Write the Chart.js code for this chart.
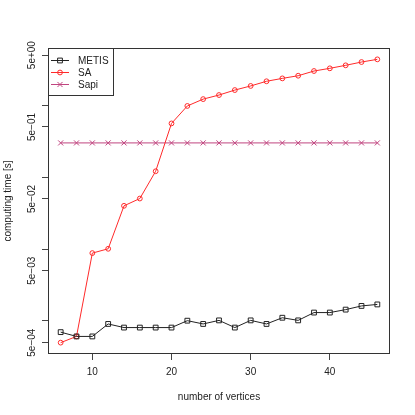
<!DOCTYPE html>
<html>
<head>
<meta charset="utf-8">
<script src="https://cdn.jsdelivr.net/npm/chart.js@4/dist/chart.umd.min.js"></script>
<style>
  html, body { margin: 0; padding: 0; background: #fff; }
  #wrap { width: 415px; height: 415px; }
</style>
</head>
<body>
<div id="wrap"><canvas id="chart"></canvas></div>
<script>
'use strict';

// number of vertices
var vertices = [6, 8, 10, 12, 14, 16, 18, 20, 22, 24, 26, 28, 30, 32, 34, 36, 38, 40, 42, 44, 46];

// computing time [s] per method
var metis = [7.0e-4, 6.1e-4, 6.1e-4, 9.1e-4, 8.1e-4, 8.1e-4, 8.1e-4, 8.1e-4, 1.01e-3, 9.1e-4, 1.02e-3,
             8.1e-4, 1.02e-3, 9.1e-4, 1.11e-3, 1.02e-3, 1.31e-3, 1.31e-3, 1.44e-3, 1.62e-3, 1.70e-3];
var sa = [5.0e-4, 6.1e-4, 8.8e-3, 1.01e-2, 4.0e-2, 5.05e-2, 0.121, 0.56, 0.98, 1.22, 1.39,
          1.63, 1.86, 2.16, 2.37, 2.58, 3.0, 3.27, 3.6, 4.0, 4.36];
var sapi = [0.30, 0.30, 0.30, 0.30, 0.30, 0.30, 0.30, 0.30, 0.30, 0.30, 0.30,
            0.30, 0.30, 0.30, 0.30, 0.30, 0.30, 0.30, 0.30, 0.30, 0.30];

// axis ticks
var xTicks = [10, 20, 30, 40];
var yTicks = [5e-4, 1e-3, 5e-3, 1e-2, 5e-2, 1e-1, 5e-1, 1, 5];
var yLabels = ['5e\u221204', '', '5e\u221203', '', '5e\u221202', '', '5e\u221201', '', '5e+00'];

var FONT = { family: "'Liberation Sans', Arial, Helvetica, sans-serif", size: 10 };
var INK = '#222';
var SAPI_COL = '#c0457f';

var toPoints = function(ys){
	return ys.map(function(y, i){ return { x: vertices[i], y: y }; });
};

// box round the plot region, like R's bty="o"
var boxPlugin = {
	id: 'box',
	afterDraw: function(chart){
		var a = chart.chartArea, ctx = chart.ctx;
		ctx.save();
		ctx.strokeStyle = '#333';
		ctx.lineWidth = 1;
		ctx.strokeRect(Math.round(a.left) + 0.5, Math.round(a.top) + 0.5,
			Math.round(a.right - a.left) - 1, Math.round(a.bottom - a.top) - 1);
		ctx.restore();
	}
};

// legend in the top left corner: line + marker + label, with a frame
var legendPlugin = {
	id: 'rlegend',
	afterDraw: function(chart){
		var a = chart.chartArea, ctx = chart.ctx;
		var x0 = a.left, y0 = a.top, w = 65, h = 47;
		ctx.save();
		ctx.fillStyle = '#fff';
		ctx.fillRect(x0 + 0.5, y0 + 0.5, w, h);
		ctx.strokeStyle = '#333';
		ctx.lineWidth = 1;
		ctx.strokeRect(x0 + 0.5, y0 + 0.5, w, h);
		ctx.font = FONT.size + 'px ' + FONT.family;
		ctx.textBaseline = 'middle';
		chart.data.datasets.forEach(function(ds, i){
			var y = y0 + 12 + i * 12;
			ctx.strokeStyle = ds.borderColor;
			ctx.lineWidth = 1;
			ctx.beginPath();
			ctx.moveTo(x0 + 3, y + 0.5);
			ctx.lineTo(x0 + 21, y + 0.5);
			ctx.stroke();
			ctx.fillStyle = 'rgba(0,0,0,0)';
			Chart.helpers.drawPoint(ctx, {
				pointStyle: ds.pointStyle, radius: ds.pointRadius,
				borderWidth: 1, rotation: 0
			}, x0 + 12, y + 0.5);
			ctx.fillStyle = INK;
			ctx.fillText(ds.label, x0 + 30, y + 1);
		});
		ctx.restore();
	}
};

var data = {
	datasets: [
		{
			label: 'METIS',
			data: toPoints(metis),
			borderColor: '#222',
			backgroundColor: 'rgba(0,0,0,0)',
			pointStyle: 'rect',
			pointRadius: 3.4
		},
		{
			label: 'SA',
			data: toPoints(sa),
			borderColor: '#ff2a2a',
			backgroundColor: 'rgba(0,0,0,0)',
			pointStyle: 'circle',
			pointRadius: 2.4
		},
		{
			label: 'Sapi',
			data: toPoints(sapi),
			borderColor: SAPI_COL,
			backgroundColor: 'rgba(0,0,0,0)',
			pointStyle: 'crossRot',
			pointRadius: 3.6
		}
	]
};

var options = {
	responsive: false,
	animation: false,
	layout: { padding: { left: 0, top: 48, right: 25, bottom: 0 } },
	elements: {
		line: { borderWidth: 1, tension: 0, fill: false },
		point: { borderWidth: 1, hoverRadius: 3 }
	},
	plugins: {
		legend: { display: false },
		tooltip: { enabled: false }
	},
	scales: {
		x: {
			type: 'linear',
			bounds: 'data',
			min: 4.4,
			max: 47.6,
			afterBuildTicks: function(scale){
				scale.ticks = xTicks.map(function(v){ return { value: v }; });
			},
			afterFit: function(scale){ scale.height = 61; },
			grid: { drawOnChartArea: false, drawTicks: true, tickLength: 6, color: '#444' },
			border: { display: false },
			ticks: { autoSkip: false, maxRotation: 0, padding: 6, color: INK, font: FONT },
			title: { display: true, text: 'number of vertices', color: INK, font: FONT,
				padding: { top: 0, bottom: 12 } }
		},
		y: {
			type: 'logarithmic',
			bounds: 'data',
			min: 3.475e-4,
			max: 6.27,
			afterBuildTicks: function(scale){
				scale.ticks = yTicks.map(function(v){ return { value: v }; });
			},
			afterFit: function(scale){ scale.width = 48; },
			grid: { drawOnChartArea: false, drawTicks: true, tickLength: 6, color: '#444' },
			border: { display: false },
			ticks: {
				autoSkip: false,
				minRotation: 90,
				maxRotation: 90,
				padding: 10,
				labelOffset: -14,
				color: INK,
				font: FONT,
				callback: function(value, index){ return yLabels[index]; }
			},
			title: { display: true, text: 'computing time [s]', color: INK, font: FONT,
				padding: { top: 2, bottom: 0 } }
		}
	}
};

var ctx = document.getElementById('chart');
ctx.width = 415;
ctx.height = 415;
new Chart(ctx, { type: 'line', data: data, options: options, plugins: [boxPlugin, legendPlugin] });
</script>
</body>
</html>
